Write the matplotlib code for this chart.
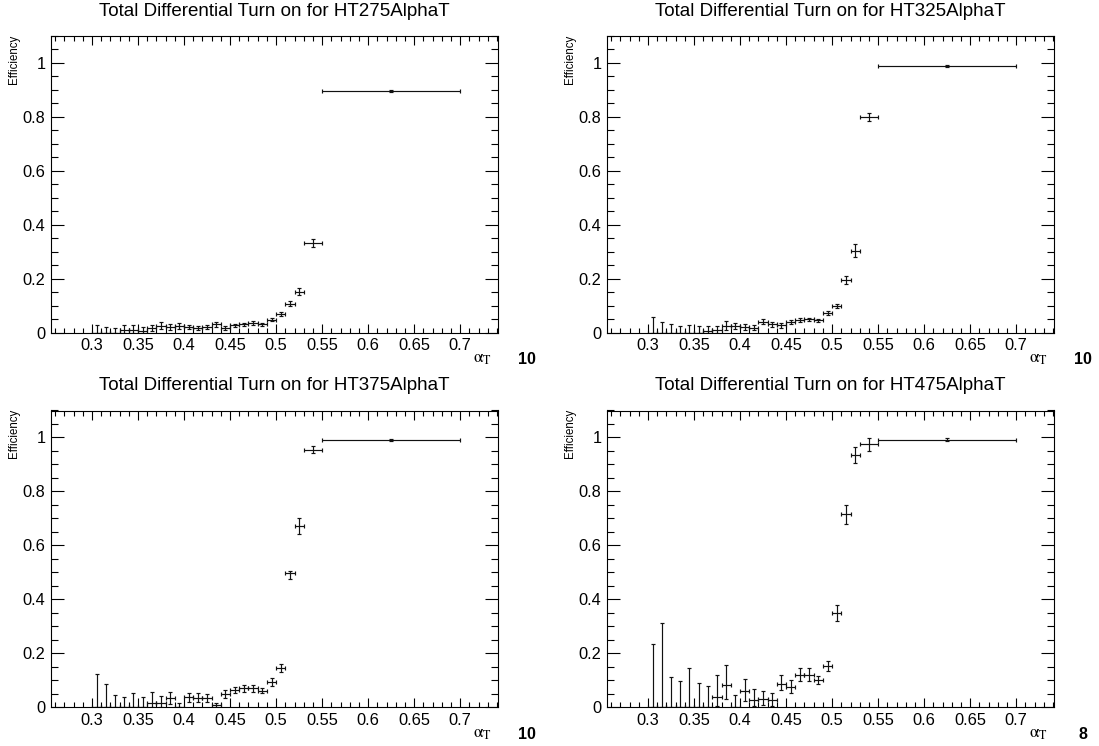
import numpy as np
import matplotlib
matplotlib.use('Agg')
import matplotlib.pyplot as plt
from matplotlib.ticker import MultipleLocator, FormatStrFormatter

plt.rcParams['font.family'] = ['Liberation Sans', 'DejaVu Sans']
plt.rcParams['mathtext.fontset'] = 'stix'

# alphaT bin edges (fine bins up to 0.53, then two wide bins)
bin_edges = [0.30, 0.31, 0.32, 0.33, 0.34, 0.35, 0.36, 0.37, 0.38, 0.39,
             0.40, 0.41, 0.42, 0.43, 0.44, 0.45, 0.46, 0.47, 0.48, 0.49,
             0.50, 0.51, 0.52, 0.53, 0.55, 0.70]

# HT275
eff_275 = [0, 0, 0, 0.010, 0.010, 0.006, 0.016, 0.025, 0.022, 0.025, 0.021, 0.017, 0.021,
           0.031, 0.017, 0.028, 0.031, 0.036, 0.031, 0.048, 0.069, 0.108, 0.152, 0.332, 0.897]
hi_275 = [0.028, 0.020, 0.019, 0.018, 0.017, 0.014, 0.012, 0.015, 0.012, 0.010, 0.009, 0.007, 0.009,
          0.009, 0.007, 0.006, 0.006, 0.006, 0.005, 0.005, 0.006, 0.009, 0.012, 0.014, 0.004]
lo_275 = [0, 0, 0, 0.010, 0.010, 0.006, 0.010, 0.013, 0.012, 0.012, 0.009, 0.007, 0.009,
          0.009, 0.007, 0.006, 0.006, 0.006, 0.005, 0.005, 0.006, 0.009, 0.012, 0.014, 0.004]

# HT325
eff_325 = [0, 0, 0, 0, 0, 0, 0.007, 0.010, 0.025, 0.025, 0.021, 0.019, 0.041,
           0.031, 0.027, 0.040, 0.046, 0.050, 0.046, 0.074, 0.099, 0.196, 0.304, 0.800, 0.988]
hi_325 = [0.057, 0.040, 0.032, 0.025, 0.028, 0.025, 0.019, 0.016, 0.017, 0.012, 0.011, 0.009, 0.011,
          0.009, 0.010, 0.007, 0.007, 0.006, 0.006, 0.008, 0.009, 0.015, 0.024, 0.015, 0.003]
lo_325 = [0, 0, 0, 0, 0, 0, 0.007, 0.010, 0.015, 0.012, 0.011, 0.009, 0.010,
          0.009, 0.010, 0.007, 0.007, 0.006, 0.006, 0.008, 0.009, 0.015, 0.024, 0.015, 0.003]

# HT375
eff_375 = [0, 0, 0, 0, 0, 0, 0.016, 0.014, 0.032, 0, 0.036, 0.035, 0.032,
           0.006, 0.047, 0.063, 0.069, 0.069, 0.061, 0.092, 0.144, 0.497, 0.670, 0.955, 0.990]
hi_375 = [0.121, 0.085, 0.046, 0.038, 0.053, 0.036, 0.038, 0.027, 0.024, 0.016, 0.017, 0.017, 0.016,
          0.008, 0.016, 0.012, 0.012, 0.012, 0.011, 0.014, 0.017, 0.008, 0.030, 0.013, 0.005]
lo_375 = [0, 0, 0, 0, 0, 0, 0.016, 0.014, 0.022, 0, 0.016, 0.016, 0.015,
          0.006, 0.015, 0.012, 0.012, 0.012, 0.010, 0.014, 0.016, 0.022, 0.030, 0.013, 0.005]

# HT475
eff_475 = [0, 0, 0, 0, 0, 0, 0, 0.037, 0.080, 0, 0.058, 0.025, 0.028,
           0.027, 0.087, 0.074, 0.118, 0.118, 0.099, 0.151, 0.347, 0.715, 0.935, 0.975, 0.992]
hi_475 = [0.232, 0.312, 0.112, 0.097, 0.145, 0.089, 0.078, 0.083, 0.074, 0.046, 0.047, 0.040, 0.033,
          0.026, 0.031, 0.027, 0.026, 0.025, 0.016, 0.020, 0.031, 0.035, 0.028, 0.022, 0.006]
lo_475 = [0, 0, 0, 0, 0, 0, 0, 0.033, 0.050, 0, 0.034, 0.022, 0.022,
          0.022, 0.023, 0.023, 0.021, 0.020, 0.015, 0.019, 0.029, 0.035, 0.030, 0.025, 0.006]

titles = ['Total Differential Turn on for HT275AlphaT', 'Total Differential Turn on for HT325AlphaT',
          'Total Differential Turn on for HT375AlphaT', 'Total Differential Turn on for HT475AlphaT']
corner_text = ['10', '10', '10', '8']

edges = np.array(bin_edges)
x_c = 0.5 * (edges[:-1] + edges[1:])
x_w = 0.5 * (edges[1:] - edges[:-1])

W, H = 1099, 746
fig = plt.figure(figsize=(W / 100, H / 100), dpi=100)

# axes frames in pixels: (left, top, right, bottom)
frames = [(51, 36, 498, 332.7), (607, 36, 1054, 332.7),
          (51, 410.5, 498, 707), (607, 410.5, 1054, 707)]
data = [(eff_275, lo_275, hi_275), (eff_325, lo_325, hi_325),
        (eff_375, lo_375, hi_375), (eff_475, lo_475, hi_475)]


def draw_panel(frame, eff, lo, hi, title, corner):
    l, t, r, b = frame
    ax = fig.add_axes([l / W, (H - b) / H, (r - l) / W, (b - t) / H])
    ax.errorbar(x_c, eff, xerr=x_w, yerr=[lo, hi], fmt='none', ecolor='#111111',
                elinewidth=0.85, capsize=1.5, capthick=0.85)
    ax.set_xlim(0.2555, 0.741)
    ax.set_ylim(0, 1.1)

    ax.xaxis.set_major_locator(MultipleLocator(0.05))
    ax.xaxis.set_minor_locator(MultipleLocator(0.01))
    ax.yaxis.set_major_locator(MultipleLocator(0.2))
    ax.yaxis.set_minor_locator(MultipleLocator(0.05))
    ax.xaxis.set_major_formatter(FormatStrFormatter('%g'))
    ax.yaxis.set_major_formatter(FormatStrFormatter('%g'))
    ax.tick_params(which='both', direction='in', top=True, right=True, width=0.8,
                   labelsize=11.8, color='black')
    ax.tick_params(axis='x', which='major', length=6.5, pad=4)
    ax.tick_params(axis='x', which='minor', length=3.3)
    ax.tick_params(axis='y', which='major', length=9.6, pad=4)
    ax.tick_params(axis='y', which='minor', length=4.8)
    for s in ax.spines.values():
        s.set_linewidth(0.8)

    # title sits at the same place in each pad
    fig.text((l + r) / 2 / W, 1 - (t - 25) / H, title, ha='center', va='center', fontsize=13.5)
    ax.text(-0.083, 1.005, 'Efficiency', rotation=90, ha='center', va='top',
            fontsize=8.3, transform=ax.transAxes)
    ax.text(0.964, -0.092, r'$\mathrm{\alpha}_{\rm T}$', ha='center', va='center',
            fontsize=12.5, transform=ax.transAxes)
    ax.text(1.065, -0.092, corner, ha='center', va='center', fontsize=11.5,
            fontweight='bold', transform=ax.transAxes)
    return ax


for frame, (eff, lo, hi), title, corner in zip(frames, data, titles, corner_text):
    draw_panel(frame, eff, lo, hi, title, corner)

plt.savefig('out.png', dpi=100)
